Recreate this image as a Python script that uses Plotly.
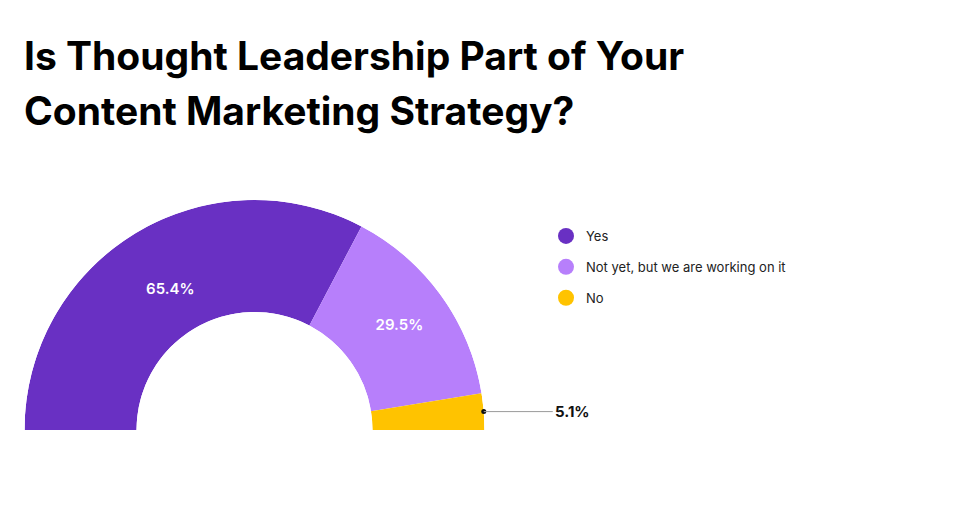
import math
import plotly.graph_objects as go

# survey answers
labels = ["Yes", "Not yet, but we are working on it", "No"]
values = [65.4, 29.5, 5.1]
colors = ["#6930C3", "#B77FFB", "#FFC300"]
label_text = ["65.4%", "29.5%", "5.1%"]
title_lines = ["Is Thought Leadership Part of Your", "Content Marketing Strategy?"]

W, H = 965, 507
PAGE = 8  # default body margin of the html page
# half donut placement (page pixels)
cx, cy, R = 254.5, 430, 230
hole = 118 / 230


def to_paper(x, y):
    return (x - PAGE) / W, 1 - (y - PAGE) / H


fig = go.Figure()

# each slice is a polar bar over a 180 degree span
start = 0
mids = []
for lab, val, col in zip(labels, values, colors):
    span = val / sum(values) * 180
    mids.append(start + span / 2)
    fig.add_trace(go.Barpolar(r=[1], theta=[start + span / 2], width=[span],
                              marker=dict(color=col, line=dict(width=0)),
                              name=lab, showlegend=False, hoverinfo="skip"))
    start += span

# inside labels for the two big slices
fig.add_trace(go.Scatterpolar(r=[0.4, 0.54], theta=mids[:2], text=label_text[:2],
                              mode="text", showlegend=False, hoverinfo="skip",
                              textfont=dict(color="white", size=15, family="Inter", weight=600)))

# dot where the leader line of the small slice starts
fig.add_trace(go.Scatterpolar(r=[1], theta=[mids[2]], mode="markers", cliponaxis=False,
                              marker=dict(color="#111", size=5), showlegend=False,
                              hoverinfo="skip"))

# legend entries with round markers
for i, (lab, col) in enumerate(zip(labels, colors)):
    fig.add_trace(go.Scatterpolar(r=[None], theta=[None], mode="markers", name=lab,
                                  legendgroup=str(i),
                                  marker=dict(color=col, size=20, symbol="circle")))

# outside label for the small slice, leader line to its outer edge
a = math.radians(mids[2])
ax_, ay_ = to_paper(cx - R * math.cos(a), cy - R * math.sin(a))
fig.add_annotation(x=ax_, y=ay_, xref="paper", yref="paper",
                   text="<b>" + label_text[2] + "</b>", showarrow=True,
                   ax=69, ay=0, axref="pixel", ayref="pixel",
                   arrowhead=0, arrowwidth=1, arrowcolor="#9a9a9a", standoff=0,
                   xanchor="left", font=dict(size=15, color="#111", family="Inter"))

# title, two lines
for i, line in enumerate(title_lines):
    tx, ty = to_paper(22, 30 + 54.5 * i)
    fig.add_annotation(x=tx, y=ty, xref="paper", yref="paper",
                       xanchor="left", yanchor="top", align="left", showarrow=False,
                       text=line,
                       font=dict(size=39, family="Inter", color="#000", weight="bold"))

x0, y0 = to_paper(cx - R, cy)
x1, y1 = to_paper(cx + R, cy - R)
lx, ly = to_paper(546, 221)
fig.update_layout(
    width=W, height=H,
    margin=dict(l=0, r=0, t=0, b=0),
    paper_bgcolor="white",
    font=dict(family="Inter", color="#222"),
    polar=dict(
        domain=dict(x=[x0, x1], y=[y0, y1]),
        sector=[0, 180], hole=hole, bgcolor="white",
        angularaxis=dict(rotation=180, direction="clockwise", visible=False,
                         showgrid=False, showline=False, ticks=""),
        radialaxis=dict(range=[0, 1], visible=False, showgrid=False),
    ),
    legend=dict(x=lx, y=ly, xanchor="left", yanchor="top",
                font=dict(size=13, color="#222", family="Inter"),
                tracegroupgap=11, itemsizing="trace"),
)

fig.write_html("out.html")
